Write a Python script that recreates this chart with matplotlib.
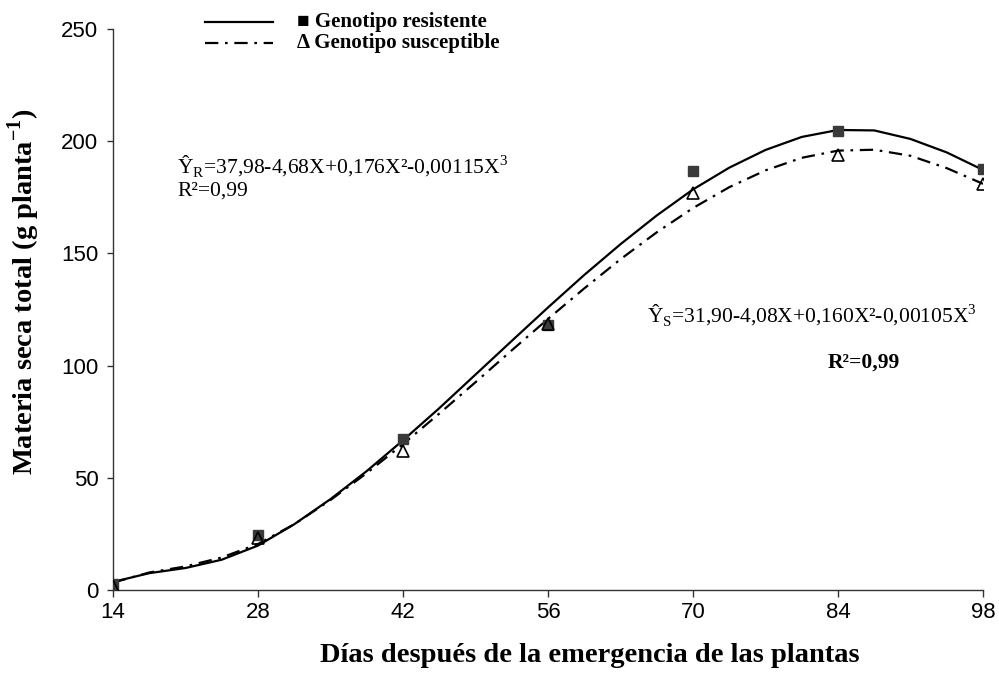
import matplotlib
matplotlib.use("Agg")
import matplotlib.pyplot as plt
from matplotlib.lines import Line2D
from matplotlib import font_manager

# días después de la emergencia (observaciones)
dias = [14, 28, 42, 56, 70, 84, 98]
obs_resistente = [2.5, 24.5, 67.5, 118, 186.5, 204.5, 187.5]
obs_susceptible = [2.0, 23.0, 62.0, 118.5, 177, 194, 181]

# curvas ajustadas (cada 3,5 días)
dias_curva = [14, 17.5, 21, 24.5, 28, 31.5, 35, 38.5, 42, 45.5, 49, 52.5, 56,
              59.5, 63, 66.5, 70, 73.5, 77, 80.5, 84, 87.5, 91, 94.5, 98]
curva_resistente = [3.6, 7.5, 9.8, 13.5, 19.8, 29.3, 40.5, 53.0, 66.7, 81.0, 96.0,
                    111.0, 125.9, 140.4, 154.1, 166.9, 178.5, 188.2, 196.1, 201.9,
                    205.0, 204.8, 201.0, 195.0, 187.2]
curva_susceptible = [3.3, 7.8, 10.5, 14.5, 20.5, 29.3, 40.1, 52.1, 65.0, 78.6, 92.6,
                     106.8, 120.8, 134.4, 147.4, 159.4, 170.2, 179.5, 187.0, 192.6,
                     195.8, 196.2, 193.5, 188.0, 181.0]

serif = ['Liberation Serif', 'DejaVu Serif']
nombres = {f.name for f in font_manager.fontManager.ttflist}
if 'Liberation Sans Narrow' in nombres:
    tick_font, tick_size = 'Liberation Sans Narrow', 19
else:
    tick_font, tick_size = 'Liberation Sans', 16

W, H = 999, 688
fig = plt.figure(figsize=(W / 100, H / 100), dpi=100)
ax = fig.add_axes([113 / W, 1 - 590 / H, (983 - 113) / W, (590 - 29) / H])

ax.plot(dias_curva, curva_resistente, color='black', lw=1.6, zorder=2)
ax.plot(dias_curva, curva_susceptible, color='black', lw=1.6,
        dashes=(6, 3, 1.2, 3), zorder=2)
ax.plot(dias, obs_resistente, ls='none', marker='s', ms=7, mfc='#3a3a3a',
        mec='#3a3a3a', zorder=3)
ax.plot(dias, obs_susceptible, ls='none', marker='^', ms=8, mfc='none',
        mec='black', mew=1.2, zorder=4)

ax.set_xlim(14, 98)
ax.set_ylim(0, 250)
ax.set_xticks(dias)
ax.set_yticks([0, 50, 100, 150, 200, 250])
for s in ['top', 'right']:
    ax.spines[s].set_visible(False)
for s in ['left', 'bottom']:
    ax.spines[s].set_color('#333333')
    ax.spines[s].set_linewidth(1.0)
ax.tick_params(axis='y', direction='out', length=4.5, width=1, pad=6, color='#333333')
ax.tick_params(axis='x', direction='out', length=5, width=1, pad=4, color='#333333')
for lab in ax.get_xticklabels() + ax.get_yticklabels():
    lab.set_fontfamily([tick_font, 'DejaVu Sans'])
    lab.set_fontsize(tick_size)

# títulos de ejes
fig.text(24 / W, 1 - 292 / H, r'Materia seca total (g planta$^{\mathregular{-1}}$)',
         rotation=90, ha='center', va='center', family=serif, weight='bold', fontsize=20.5)
fig.text(590 / W, 1 - 655 / H, 'Días después de la emergencia de las plantas',
         ha='center', va='center', family=serif, weight='bold', fontsize=20.5)

# leyenda
fig.add_artist(Line2D([205 / W, 273 / W], [1 - 22 / H, 1 - 22 / H], color='black',
                      lw=1.6, transform=fig.transFigure))
fig.add_artist(Line2D([205 / W, 273 / W], [1 - 43 / H, 1 - 43 / H], color='black',
                      lw=1.6, dashes=(6, 3, 1.2, 3), transform=fig.transFigure))
fig.text(297 / W, 1 - 22 / H, '■ Genotipo resistente', ha='left', va='center',
         family=serif, weight='bold', fontsize=15)
fig.text(297 / W, 1 - 43 / H, 'Δ Genotipo susceptible', ha='left', va='center',
         family=serif, weight='bold', fontsize=15)

# ecuaciones
fig.text(177 / W, 1 - 173 / H,
         r'Ŷ$_\mathregular{R}$=37,98-4,68X+0,176X²-0,00115X$^\mathregular{3}$',
         ha='left', va='baseline', family=serif, fontsize=15.5)
fig.text(177 / W, 1 - 196 / H, 'R²=0,99', ha='left', va='baseline',
         family=serif, fontsize=15.5)
fig.text(977 / W, 1 - 322 / H,
         r'Ŷ$_\mathregular{S}$=31,90-4,08X+0,160X²-0,00105X$^\mathregular{3}$',
         ha='right', va='baseline', family=serif, fontsize=15.5)
fig.text(828 / W, 1 - 368 / H, 'R²=0,99', ha='left', va='baseline',
         family=serif, weight='bold', fontsize=15.5)

fig.savefig('out.png', dpi=100)
plt.close(fig)
